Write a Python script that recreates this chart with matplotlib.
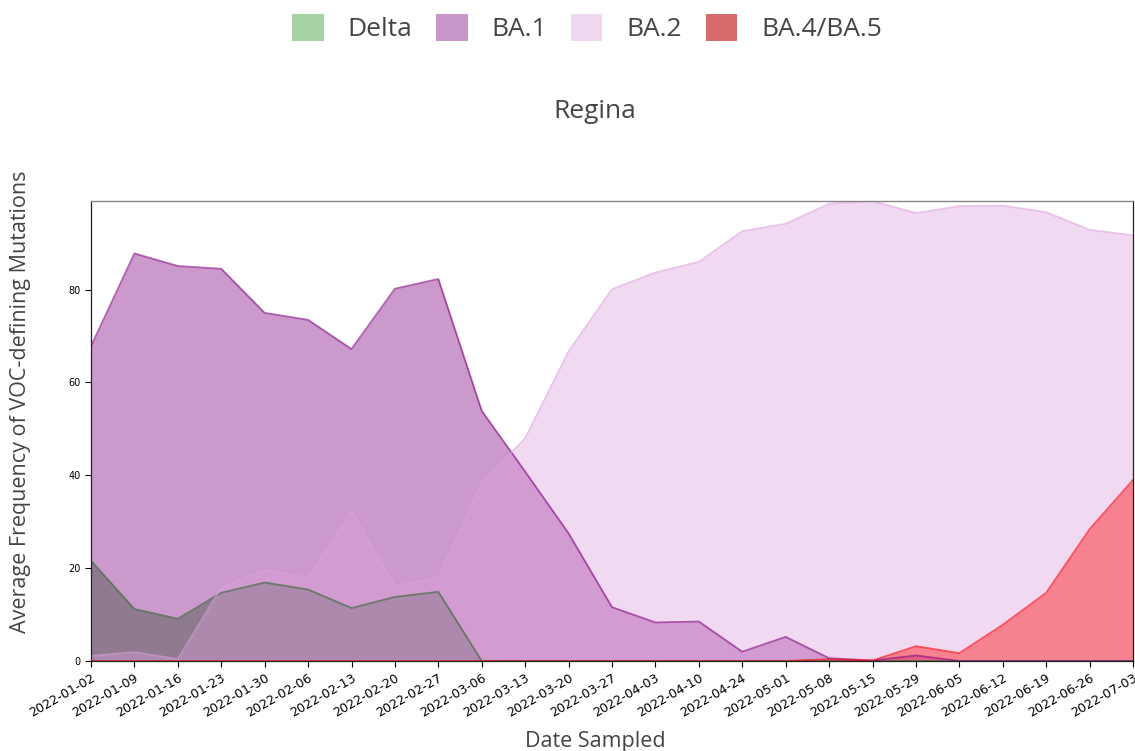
import matplotlib
matplotlib.use("Agg")
import matplotlib.pyplot as plt
from matplotlib.patches import Patch
import numpy as np

dates = ["2022-01-02", "2022-01-09", "2022-01-16", "2022-01-23", "2022-01-30",
         "2022-02-06", "2022-02-13", "2022-02-20", "2022-02-27", "2022-03-06",
         "2022-03-13", "2022-03-20", "2022-03-27", "2022-04-03", "2022-04-10",
         "2022-04-24", "2022-05-01", "2022-05-08", "2022-05-15", "2022-05-29",
         "2022-06-05", "2022-06-12", "2022-06-19", "2022-06-26", "2022-07-03"]

delta = [21.6, 11.2, 9.1, 14.7, 16.9, 15.4, 11.4, 13.8, 14.9, 0.0,
         0.0, 0.0, 0.0, 0.0, 0.0, 0.0, 0.0, 0.0, 0.0, 0.0,
         0.0, 0.0, 0.0, 0.0, 0.0]
ba1 = [67.8, 87.8, 85.1, 84.5, 75.0, 73.5, 67.2, 80.2, 82.3, 53.9,
       40.8, 27.5, 11.6, 8.3, 8.5, 2.0, 5.2, 0.6, 0.1, 1.2,
       0.0, 0.0, 0.0, 0.0, 0.0]
ba2 = [1.1, 1.9, 0.4, 15.8, 19.6, 18.0, 32.3, 16.2, 18.0, 38.3,
       48.0, 66.7, 80.1, 83.7, 86.0, 92.6, 94.2, 98.5, 99.1, 96.5,
       98.0, 98.1, 96.7, 92.9, 91.7]
ba45 = [0.0, 0.0, 0.0, 0.0, 0.0, 0.0, 0.0, 0.0, 0.0, 0.0,
        0.0, 0.0, 0.0, 0.0, 0.0, 0.0, 0.0, 0.4, 0.1, 3.2,
        1.7, 7.8, 14.7, 28.4, 39.0]

series_names = ["Delta", "BA.1", "BA.2", "BA.4/BA.5"]
series_vals = [delta, ba1, ba2, ba45]
fill_colors = ["green", "purple", "plum", "red"]
line_colors = ["#3f6f3f", "purple", "plum", "red"]
line_alphas = [0.7, 0.6, 0.6, 0.6]
legend_colors = ["#a6d3a6", "#c996c9", "#f0d8f0", "#d76b6b"]

fig = plt.figure(figsize=(11.35, 7.51), dpi=100)
ax = fig.add_axes([91/1135, 1-661/751, (1133-91)/1135, (661-201)/751])

x = np.arange(len(dates))
for vals, col, lc, la in zip(series_vals, fill_colors, line_colors, line_alphas):
    ax.fill_between(x, 0, vals, color=col, alpha=0.4, linewidth=0)
    ax.plot(x, vals, color=lc, alpha=la, linewidth=1.3)

ax.set_xlim(0, len(dates)-1)
ax.set_ylim(0, max(max(v) for v in series_vals))
ax.set_xticks(x)
ax.set_xticklabels(dates, rotation=30, ha="right", rotation_mode="anchor", fontsize=9.2)
ax.set_yticks([0, 20, 40, 60, 80])
ax.tick_params(axis="y", labelsize=7, length=4)
ax.tick_params(axis="x", length=4)
for s in ["left", "bottom", "right"]:
    ax.spines[s].set_color("#222222")
    ax.spines[s].set_linewidth(0.9)
ax.spines["top"].set_color("#888888")
ax.spines["top"].set_linewidth(1.0)

txtc = "#444444"
fam = ["Open Sans", "DejaVu Sans"]
fig.text(595/1135, 1-111/751, "Regina", ha="center", va="center",
         fontsize=19, color=txtc, family=fam)
fig.text(595/1135, 1-741/751, "Date Sampled", ha="center", va="center",
         fontsize=15.5, color=txtc, family=fam)
fig.text(21/1135, 1-402/751, "Average Frequency of VOC-defining Mutations",
         ha="center", va="center", rotation=90, fontsize=15.5, color=txtc, family=fam)

handles = [Patch(facecolor=c, edgecolor="none") for c in legend_colors]
leg = fig.legend(handles, series_names, loc="center", bbox_to_anchor=(587/1135, 1-28/751),
                 ncol=4, frameon=False, handlelength=1.2, handleheight=1.2,
                 handletextpad=0.9, columnspacing=0.9, prop={"family": fam, "size": 19})
for t in leg.get_texts():
    t.set_color(txtc)

fig.savefig("out.png", dpi=100)
